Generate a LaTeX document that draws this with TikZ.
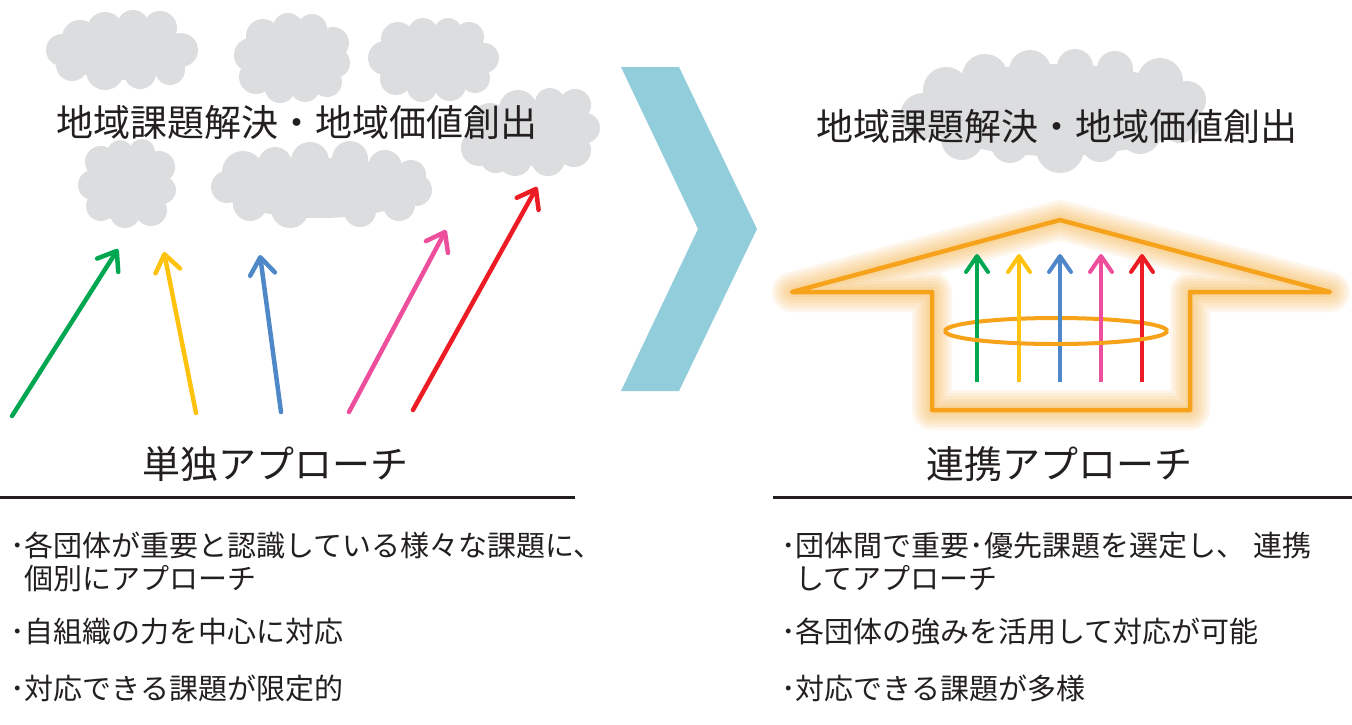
\documentclass[tikz,border=0pt]{standalone}
\usepackage{fontspec}
\newfontfamily\jp{Noto Sans CJK JP}
\usetikzlibrary{arrows.meta}
\definecolor{cloudgray}{HTML}{DCDDDE}
\definecolor{txt}{HTML}{231F20}
\definecolor{chev}{HTML}{92CDDC}
\definecolor{orng}{HTML}{F7A21B}
\definecolor{agreen}{HTML}{00A650}
\definecolor{ayellow}{HTML}{FFC20E}
\definecolor{ablue}{HTML}{4F88C8}
\definecolor{apink}{HTML}{EE4F9C}
\definecolor{ared}{HTML}{ED1C24}
\begin{document}
\begin{tikzpicture}[x=1pt,y=-1pt,
  cloud/.style={fill=cloudgray},
  arr/.style={line width=4.5pt, line cap=round, -{Straight Barb[length=17pt,width=25pt,round]}},
  harr/.style={line width=4pt, line cap=butt, -{Straight Barb[length=16pt,width=22pt,round]}},
  titletext/.style={font=\jp\fontsize{37pt}{40pt}\selectfont, text=txt, anchor=base, inner sep=0pt},
  labeltext/.style={font=\jp\fontsize{38pt}{42pt}\selectfont, text=txt, anchor=base, inner sep=0pt},
  bullettext/.style={font=\jp\fontsize{29pt}{32pt}\selectfont, text=txt, anchor=base west, inner sep=0pt},
  rulebar/.style={line width=3pt, draw=txt},
  glow/.style={draw=orng, line join=round, opacity=0.085},
  houseline/.style={draw=orng, line width=4.5pt, line join=round},
]
\useasboundingbox (0,0) rectangle (1352,724);
\fill[white] (0,0) rectangle (1352,724);

% ---------- left clouds ----------
\fill[cloud] (121,50) ellipse (62pt and 30pt)
  (62,50) circle (16pt) (80,38) circle (18pt) (105,30) circle (18pt)
  (133,26) circle (16pt) (160,28) circle (17pt) (181,50) circle (17pt)
  (170,70) circle (15pt) (140,73) circle (16pt) (105,71) circle (19pt)
  (72,65) circle (16pt);
\fill[cloud] (292,58) ellipse (47pt and 36pt)
  (251,55) circle (17pt) (263,36) circle (17pt) (288,28) circle (15pt)
  (312,29) circle (15pt) (333,43) circle (16pt) (335,63) circle (15pt)
  (327,82) circle (15pt) (305,87) circle (15pt) (280,88) circle (15pt)
  (256,77) circle (17pt);
\fill[cloud] (434,60) ellipse (54pt and 33pt)
  (385,58) circle (17pt) (398,39) circle (17pt) (423,33) circle (15pt)
  (448,32) circle (14pt) (469,37) circle (15pt) (484,58) circle (15pt)
  (475,78) circle (15pt) (450,85) circle (16pt) (422,87) circle (15pt)
  (396,79) circle (16pt);
\fill[cloud] (530,134) ellipse (60pt and 32pt)
  (479,148) circle (18pt) (490,122) circle (19pt) (518,109) circle (19pt)
  (550,103) circle (15pt) (575,105) circle (16pt) (585,128) circle (15pt)
  (574,150) circle (17pt) (548,159) circle (17pt) (515,159) circle (17pt)
  (496,157) circle (16pt);
\fill[cloud] (127,185) ellipse (40pt and 37pt)
  (93,185) circle (15pt) (101,162) circle (16pt) (120,153) circle (13pt)
  (142,152) circle (13pt) (159,167) circle (16pt) (162,190) circle (14pt)
  (151,210) circle (16pt) (125,213) circle (15pt) (101,206) circle (15pt);
\fill[cloud] (320,188) ellipse (100pt and 30pt)
  (227,187) circle (16pt) (243,172) circle (21pt) (275,164) circle (17pt)
  (310,161) circle (19pt) (350,159) circle (18pt) (385,167) circle (17pt)
  (411,175) circle (15pt) (416,190) circle (16pt) (399,205) circle (16pt)
  (360,211) circle (16pt) (290,209) circle (19pt) (250,204) circle (17pt);

% ---------- right cloud ----------
\fill[cloud] (1055,110) ellipse (140pt and 46pt)
  (923,116) circle (23pt) (946,90) circle (23pt) (985,77) circle (23pt)
  (1030,71) circle (21pt) (1075,67) circle (18pt) (1115,69) circle (18pt)
  (1160,81) circle (23pt) (1187,100) circle (19pt) (1180,124) circle (19pt)
  (1140,133) circle (21pt) (1100,143) circle (19pt) (1060,149) circle (24pt)
  (1010,144) circle (19pt) (962,139) circle (21pt);

% ---------- titles ----------
\node[titletext] (tl) at (297,136) {地域課題解決・地域価値創出};
\node[titletext] (tr) at (1057,140) {地域課題解決・地域価値創出};

% ---------- left arrows ----------
\coordinate (g0) at (12,416); \coordinate (g1) at (118,249);
\coordinate (y0) at (196,413); \coordinate (y1) at (164,252);
\coordinate (b0) at (281,412); \coordinate (b1) at (260,255);
\coordinate (p0) at (349,412); \coordinate (p1) at (446,230);
\coordinate (r0) at (413,410); \coordinate (r1) at (537,187);
\draw[arr, agreen] (g0) -- (g1);
\draw[arr, ayellow] (y0) -- (y1);
\draw[arr, ablue] (b0) -- (b1);
\draw[arr, apink] (p0) -- (p1);
\draw[arr, ared] (r0) -- (r1);

% ---------- chevron ----------
\fill[chev] (621,67) -- (679,67) -- (757,229) -- (679,391) -- (621,391) -- (698,229) -- cycle;

% ---------- house ----------
\foreach \w in {40,34,28,22,16,10}{
  \draw[glow, line width=\w pt] (792,292) -- (1060,220) -- (1330,292) -- (1190,292) -- (1190,410) -- (932,410) -- (932,292) -- cycle;
}
\draw[houseline] (792,292) -- (1060,220) -- (1330,292) -- (1190,292) -- (1190,410) -- (932,410) -- (932,292) -- cycle;

% ring back half
\draw[orng, line width=4pt] (945,331) arc[start angle=180, end angle=0, x radius=111pt, y radius=13pt];
% house arrows
\coordinate (h1a) at (977,382); \coordinate (h1b) at (977,254);
\coordinate (h2a) at (1019,382); \coordinate (h2b) at (1019,254);
\coordinate (h3a) at (1060,382); \coordinate (h3b) at (1060,254);
\coordinate (h4a) at (1101,382); \coordinate (h4b) at (1101,254);
\coordinate (h5a) at (1142,382); \coordinate (h5b) at (1142,254);
\draw[harr, agreen] (h1a) -- (h1b);
\draw[harr, ayellow] (h2a) -- (h2b);
\draw[harr, ablue] (h3a) -- (h3b);
\draw[harr, apink] (h4a) -- (h4b);
\draw[harr, ared] (h5a) -- (h5b);
% ring front half
\draw[orng, line width=4pt] (945,331) arc[start angle=180, end angle=360, x radius=111pt, y radius=13pt];

% ---------- labels & rules ----------
\node[labeltext] (ll) at (275,478) {単独アプローチ};
\node[labeltext] (lr) at (1059,478) {連携アプローチ};
\coordinate (ruleLa) at (0,497); \coordinate (ruleLb) at (575,497);
\coordinate (ruleRa) at (773,497); \coordinate (ruleRb) at (1352,497);
\draw[rulebar] (ruleLa) -- (ruleLb);
\draw[rulebar] (ruleRa) -- (ruleRb);

% ---------- bullets ----------
\node[bullettext] (bl1) at (10,556) {･各団体が重要と認識している様々な課題に、};
\node[bullettext] (bl2) at (24.5,589) {個別にアプローチ};
\node[bullettext] (bl3) at (10,642) {･自組織の力を中心に対応};
\node[bullettext] (bl4) at (10,699) {･対応できる課題が限定的};
\node[bullettext] (br1) at (781,556) {･団体間で重要･優先課題を選定し、\hspace{8pt}連携};
\node[bullettext] (br2) at (795.5,589) {してアプローチ};
\node[bullettext] (br3) at (781,642) {･各団体の強みを活用して対応が可能};
\node[bullettext] (br4) at (781,699) {･対応できる課題が多様};
\end{tikzpicture}
\end{document}
